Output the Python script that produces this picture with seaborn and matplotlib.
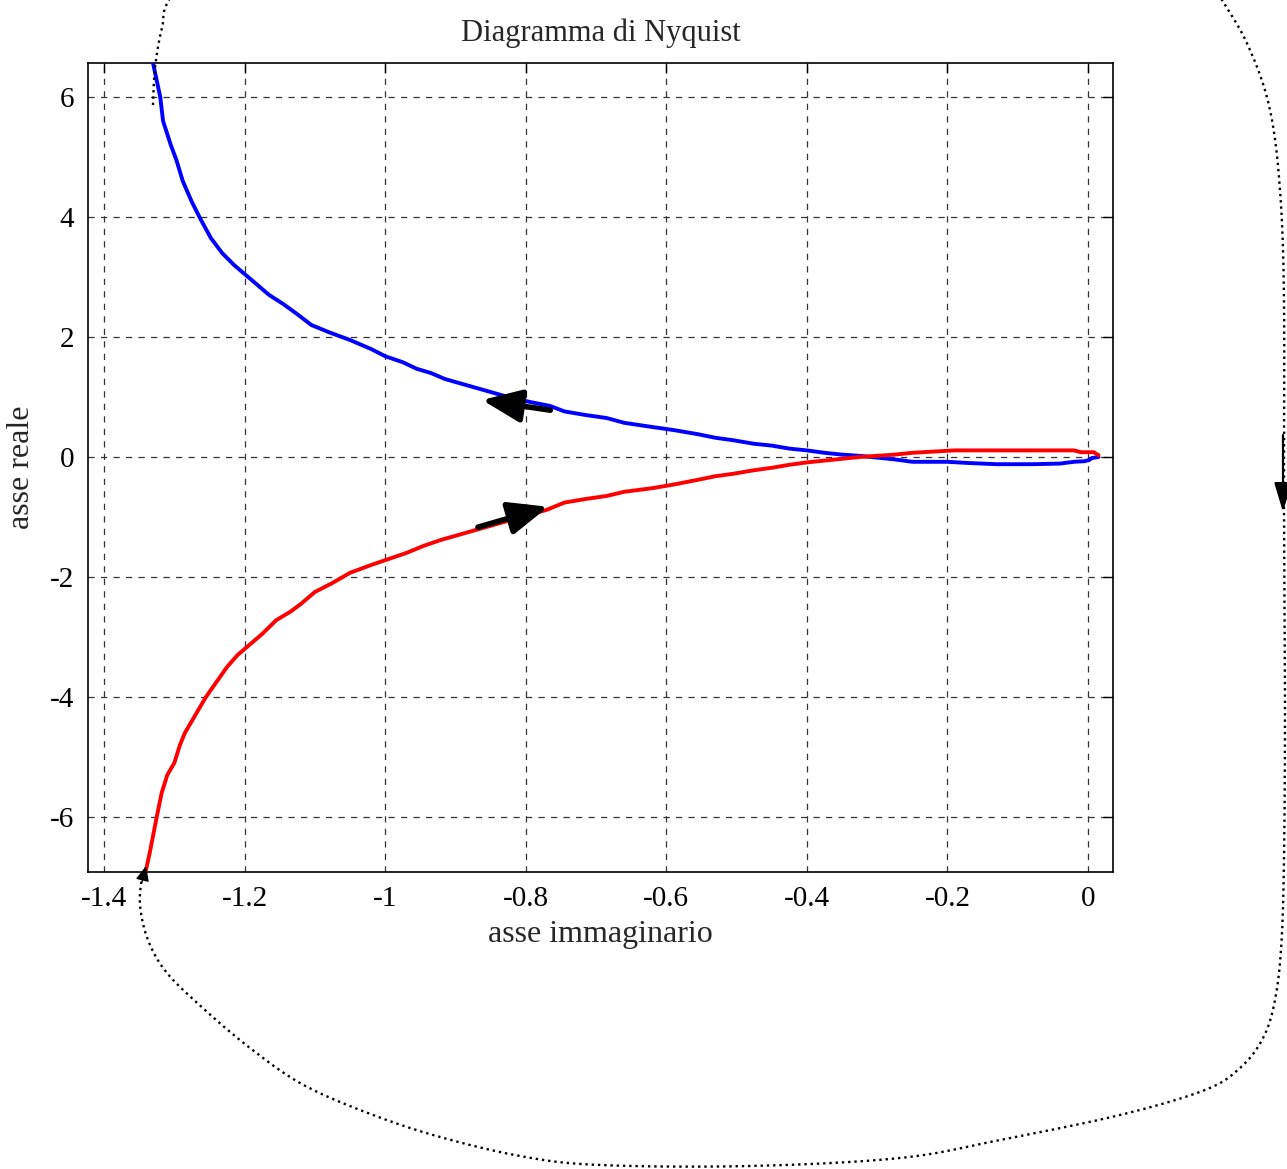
import numpy as np
import pandas as pd
import matplotlib
matplotlib.use("Agg")
import matplotlib.pyplot as plt
import seaborn as sns

# ---- data ----
blue_im = [-1.330, -1.320, -1.316, -1.305, -1.297, -1.288, -1.275, -1.262, -1.248, -1.232,
           -1.215, -1.200, -1.185, -1.165, -1.145, -1.125, -1.105, -1.080, -1.050, -1.020,
           -1.000, -0.975, -0.955, -0.935, -0.915, -0.885, -0.855, -0.825, -0.795, -0.765,
           -0.745, -0.715, -0.685, -0.660, -0.620, -0.590, -0.555, -0.530, -0.505, -0.475,
           -0.450, -0.425, -0.400, -0.375, -0.350, -0.325, -0.300, -0.275, -0.250, -0.200,
           -0.170, -0.130, -0.080, -0.040, -0.020, -0.005, 0.002, 0.005, 0.015]
blue_re = [6.55, 6.00, 5.60, 5.20, 4.95, 4.60, 4.25, 3.95, 3.65, 3.40,
           3.20, 3.05, 2.90, 2.70, 2.55, 2.38, 2.20, 2.08, 1.95, 1.80,
           1.68, 1.58, 1.47, 1.40, 1.30, 1.20, 1.10, 1.00, 0.92, 0.85,
           0.76, 0.70, 0.65, 0.57, 0.50, 0.45, 0.38, 0.32, 0.28, 0.22,
           0.19, 0.14, 0.11, 0.07, 0.04, 0.02, -0.01, -0.04, -0.08, -0.08,
           -0.10, -0.12, -0.12, -0.11, -0.08, -0.07, -0.05, -0.02, 0.00]

red_im = [-1.341, -1.335, -1.330, -1.325, -1.318, -1.310, -1.300, -1.292, -1.285, -1.270,
          -1.255, -1.240, -1.225, -1.210, -1.195, -1.175, -1.155, -1.135, -1.120, -1.100,
          -1.075, -1.050, -1.020, -1.000, -0.970, -0.945, -0.920, -0.890, -0.860, -0.830,
          -0.800, -0.770, -0.745, -0.715, -0.685, -0.660, -0.620, -0.590, -0.555, -0.530,
          -0.505, -0.475, -0.450, -0.425, -0.400, -0.375, -0.350, -0.325, -0.300, -0.275,
          -0.250, -0.220, -0.190, -0.150, -0.080, -0.020, -0.010, 0.008, 0.015]
red_re = [-6.92, -6.60, -6.30, -6.00, -5.60, -5.30, -5.10, -4.80, -4.60, -4.30,
          -4.00, -3.75, -3.50, -3.30, -3.15, -2.95, -2.72, -2.58, -2.45, -2.25,
          -2.10, -1.93, -1.80, -1.72, -1.60, -1.48, -1.38, -1.28, -1.18, -1.08,
          -0.98, -0.88, -0.76, -0.70, -0.65, -0.58, -0.52, -0.46, -0.38, -0.32,
          -0.28, -0.22, -0.18, -0.13, -0.09, -0.06, -0.03, 0.00, 0.02, 0.04,
          0.07, 0.09, 0.11, 0.11, 0.11, 0.11, 0.08, 0.08, 0.03]

# direction arrows on the curves: (tail_im, tail_re, tip_im, tip_re)
blue_arrow = (-0.765, 0.78, -0.862, 0.95)
red_arrow = (-0.868, -1.17, -0.768, -0.83)

xticks = [-1.4, -1.2, -1.0, -0.8, -0.6, -0.4, -0.2, 0.0]
xticklabels = ["-1.4", "-1.2", "-1", "-0.8", "-0.6", "-0.4", "-0.2", "0"]
yticks = [-6, -4, -2, 0, 2, 4, 6]
yticklabels = ["-6", "-4", "-2", "0", "2", "4", "6"]

# closing contour (decorative, figure pixel coordinates)
contour_px = [(153, 105), (155, 68), (162, 28), (175, -10), (260, -120), (700, -200),
              (1150, -110), (1222, 0), (1250, 50), (1270, 110), (1280, 190), (1284, 300),
              (1284, 500), (1285, 700), (1284, 860), (1281, 950), (1274, 1005),
              (1262, 1040), (1240, 1068), (1205, 1090), (1120, 1115), (1000, 1140),
              (900, 1158), (750, 1166), (600, 1165), (520, 1156), (433, 1135),
              (360, 1110), (300, 1083), (250, 1048), (205, 1010), (167, 973),
              (148, 940), (140, 905), (142, 876)]

# ---- styling ----
sns.set_style("white")
plt.rcParams["font.family"] = ["Liberation Serif", "DejaVu Serif"]

W, H = 1287, 1169
fig = plt.figure(figsize=(W / 100, H / 100), dpi=100)
ax = fig.add_axes([88 / W, 1 - 872 / H, (1113 - 88) / W, (872 - 63) / H])

df_b = pd.DataFrame({"im": blue_im, "re": blue_re})
df_r = pd.DataFrame({"im": red_im, "re": red_re})
sns.lineplot(data=df_b, x="im", y="re", sort=False, estimator=None, color="#0000ff",
             linewidth=2.8, ax=ax, zorder=3)
sns.lineplot(data=df_r, x="im", y="re", sort=False, estimator=None, color="#ff0000",
             linewidth=2.8, ax=ax, zorder=3)

for (x0, y0, x1, y1) in (blue_arrow, red_arrow):
    ax.annotate("", xy=(x1, y1), xytext=(x0, y0),
                arrowprops=dict(arrowstyle="-|>,head_length=1.2,head_width=0.5",
                                mutation_scale=20, color="black", lw=4.0,
                                shrinkA=0, shrinkB=0),
                zorder=5)

ax.set_xlim(-1.4228, 0.0356)
ax.set_ylim(-6.917, 6.567)
ax.set_xticks(xticks)
ax.set_xticklabels(xticklabels)
ax.set_yticks(yticks)
ax.set_yticklabels(yticklabels)
ax.tick_params(direction="in", length=7, width=1, top=True, right=True,
               labelsize=21, colors="black", pad=10)
ax.grid(True, linestyle=(0, (5, 5)), color="#333333", linewidth=0.9)
for s in ax.spines.values():
    s.set_color("black")
    s.set_linewidth(1.2)

ax.set_xlabel("asse immaginario", fontsize=23, labelpad=6)
ax.set_ylabel("asse reale", fontsize=23, labelpad=10)
ax.set_title("Diagramma di Nyquist", fontsize=22, pad=16)

# overlay for the closing contour
ov = fig.add_axes([0, 0, 1, 1], zorder=10)
ov.set_xlim(0, W)
ov.set_ylim(H, 0)
ov.axis("off")
ov.patch.set_alpha(0)

pts = np.array(contour_px, dtype=float)
P = np.vstack([pts[0], pts, pts[-1]])
curve = []
for i in range(1, len(P) - 2):
    p0, p1, p2, p3 = P[i - 1], P[i], P[i + 1], P[i + 2]
    for t in np.linspace(0, 1, 20, endpoint=False):
        t2, t3 = t * t, t * t * t
        curve.append(0.5 * ((2 * p1) + (-p0 + p2) * t + (2 * p0 - 5 * p1 + 4 * p2 - p3) * t2
                            + (-p0 + 3 * p1 - 3 * p2 + p3) * t3))
curve.append(P[-2])
curve = np.array(curve)
ov.plot(curve[:, 0], curve[:, 1], color="black", linestyle=":", linewidth=1.7, clip_on=False)

ov.annotate("", xy=(1283, 512), xytext=(1283, 435),
            arrowprops=dict(arrowstyle="-|>,head_length=1.5,head_width=0.45",
                            mutation_scale=12, color="black", lw=1.6,
                            shrinkA=0, shrinkB=0))
ov.annotate("", xy=(146, 866), xytext=(142, 882),
            arrowprops=dict(arrowstyle="-|>,head_length=1.0,head_width=0.45",
                            mutation_scale=9, color="black", lw=1.0,
                            shrinkA=0, shrinkB=0))

fig.savefig("out.png", dpi=100)
